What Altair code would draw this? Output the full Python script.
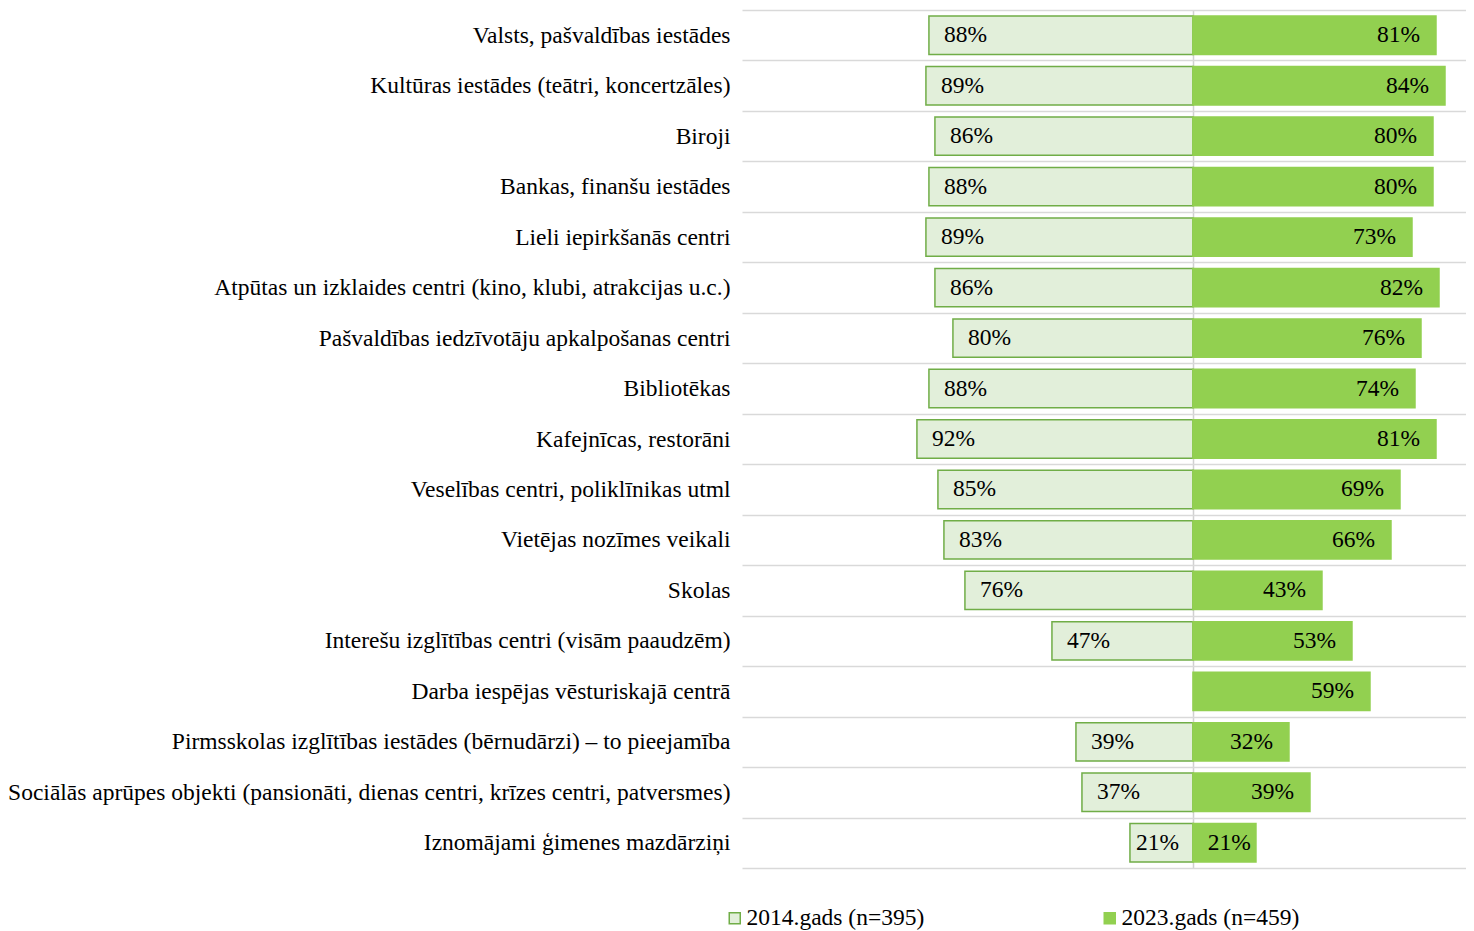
import altair as alt
import pandas as pd

categories = [
    "Valsts, pašvaldības iestādes",
    "Kultūras iestādes (teātri, koncertzāles)",
    "Biroji",
    "Bankas, finanšu iestādes",
    "Lieli iepirkšanās centri",
    "Atpūtas un izklaides centri (kino, klubi, atrakcijas u.c.)",
    "Pašvaldības iedzīvotāju apkalpošanas centri",
    "Bibliotēkas",
    "Kafejnīcas, restorāni",
    "Veselības centri, poliklīnikas utml",
    "Vietējas nozīmes veikali",
    "Skolas",
    "Interešu izglītības centri (visām paaudzēm)",
    "Darba iespējas vēsturiskajā centrā",
    "Pirmsskolas izglītības iestādes (bērnudārzi) – to pieejamība",
    "Sociālās aprūpes objekti (pansionāti, dienas centri, krīzes centri, patversmes)",
    "Iznomājami ģimenes mazdārziņi",
]
v2014 = [88, 89, 86, 88, 89, 86, 80, 88, 92, 85, 83, 76, 47, None, 39, 37, 21]
v2023 = [81, 84, 80, 80, 73, 82, 76, 74, 81, 69, 66, 43, 53, 59, 32, 39, 21]
series = ["2014.gads (n=395)", "2023.gads (n=459)"]
fills = ["#E2EFDA", "#92D050"]
strokes = ["#70AD47", "#92D050"]

rows = []
for c, a, b in zip(categories, v2014, v2023):
    if a is not None:
        rows.append({"cat": c, "series": series[0], "start": -a, "end": 0, "tip": -a, "label": f"{a}%"})
    if b is not None:
        rows.append({"cat": c, "series": series[1], "start": 0, "end": b, "tip": b, "label": f"{b}%"})
df = pd.DataFrame(rows)

FONT = "Liberation Serif"
FS = 23.5
xscale = alt.Scale(domain=[-150.3, 91.0], nice=False, zero=False)
yenc = alt.Y(
    "cat:N",
    sort=categories,
    scale=alt.Scale(paddingInner=0, paddingOuter=0),
    title=None,
    axis=alt.Axis(
        grid=True, tickBand="extent", ticks=False, domain=False,
        gridColor="#D9D9D9", gridWidth=1.5,
        labelFont=FONT, labelFontSize=FS, labelColor="#000000",
        labelPadding=12, labelLimit=1000,
    ),
)
legend = alt.Legend(
    title=None, orient="none", legendX=-19, legendY=896, direction="horizontal",
    symbolType="square", symbolSize=121, symbolStrokeWidth=1.5,
    labelFont=FONT, labelFontSize=FS, labelColor="#000000", labelOffset=0,
    columnPadding=173, padding=0, labelLimit=1000,
)

base = alt.Chart(df)
bars = base.mark_bar(strokeWidth=1.5, height=alt.RelativeBandSize(0.76)).encode(
    y=yenc,
    x=alt.X("start:Q", scale=xscale, title=None,
            axis=alt.Axis(values=[0], grid=True, gridColor="#D0D0D0", gridWidth=1.5,
                          labels=False, ticks=False, domain=False, title=None)),
    x2="end:Q",
    fill=alt.Fill("series:N", scale=alt.Scale(domain=series, range=fills), legend=legend),
    stroke=alt.Stroke("series:N", scale=alt.Scale(domain=series, range=strokes), legend=legend),
)
t14 = base.transform_filter(alt.datum.series == series[0]).transform_calculate(
    pos="min(datum.tip + 5, -19)"
).mark_text(
    align="left", baseline="middle", font=FONT, fontSize=FS, color="#000000"
).encode(y=alt.Y("cat:N", sort=categories), x=alt.X("pos:Q", scale=xscale, title=None), text="label:N")
t23 = base.transform_filter(alt.datum.series == series[1]).transform_calculate(
    pos="max(datum.tip - 5.33, 19.3)"
).mark_text(
    align="right", baseline="middle", font=FONT, fontSize=FS, color="#000000"
).encode(y=alt.Y("cat:N", sort=categories), x=alt.X("pos:Q", scale=xscale, title=None), text="label:N")

chart = alt.layer(bars, t14, t23).properties(
    width=724, height=858,
    autosize=alt.AutoSizeParams(type="none"),
    padding={"left": 734, "top": 2, "right": 0, "bottom": 63},
).configure_view(stroke=None)

chart.save("out.html", embed_options={"renderer": "svg", "actions": False})
